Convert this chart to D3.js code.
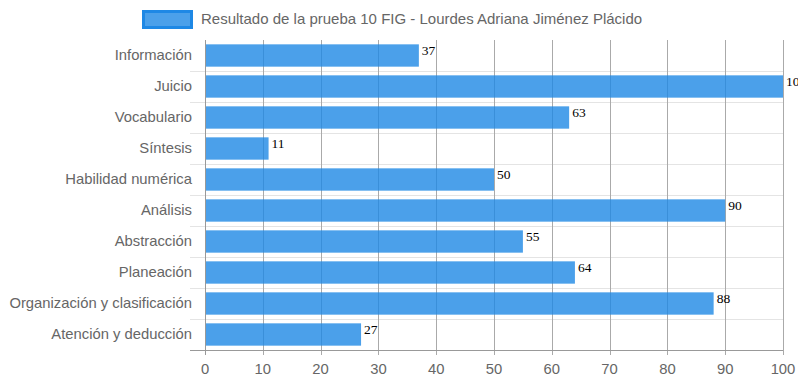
<!DOCTYPE html>
<html lang="es">
<head>
<meta charset="UTF-8" />
<title>Resultado de la prueba 10 FIG</title>
<script src="https://d3js.org/d3.v7.min.js"></script>
<style>
  body { margin: 0; background: #fff; }
  text { font-family: "Liberation Sans", Arial, sans-serif; }
</style>
</head>
<body>
<div id="chart"></div>
<script>
const categories = ["Información", "Juicio", "Vocabulario", "Síntesis", "Habilidad numérica",
  "Análisis", "Abstracción", "Planeación", "Organización y clasificación", "Atención y deducción"]
const values = [37, 100, 63, 11, 50, 90, 55, 64, 88, 27]
const xTicks = [0, 10, 20, 30, 40, 50, 60, 70, 80, 90, 100]
const seriesName = "Resultado de la prueba 10 FIG - Lourdes Adriana Jiménez Plácido"

const width = 798, height = 385
const margin = { top: 40, right: 15, bottom: 35, left: 205 }

const svg = d3.select("#chart").append("svg")
  .attr("width", width).attr("height", height)

const x = d3.scaleLinear().domain([0, 100]).range([margin.left, 783])
const y = d3.scaleBand().domain(categories).range([margin.top, height - margin.bottom])
const barH = y.bandwidth() * 0.9 * 0.8

// horizontal grid lines (band boundaries)
svg.append("g")
  .selectAll("line")
  .data(categories.slice(1))
  .join("line")
  .attr("x1", margin.left - 15).attr("x2", x(100))
  .attr("y1", d => y(d) + 0.5).attr("y2", d => y(d) + 0.5)
  .attr("stroke", "#e4e4e4")

// vertical grid lines
svg.append("g")
  .selectAll("line")
  .data(xTicks)
  .join("line")
  .attr("x1", d => Math.round(x(d)) + 0.5).attr("x2", d => Math.round(x(d)) + 0.5)
  .attr("y1", margin.top).attr("y2", height - margin.bottom + 5)
  .attr("stroke", d => d === 0 ? "#999" : "#aaa")

// bottom axis line
svg.append("line")
  .attr("x1", margin.left - 15).attr("x2", x(100))
  .attr("y1", height - margin.bottom + 0.5).attr("y2", height - margin.bottom + 0.5)
  .attr("stroke", "#999")

// bars
svg.append("g")
  .selectAll("rect")
  .data(values)
  .join("rect")
  .attr("x", x(0) + 1)
  .attr("y", (d, i) => y(categories[i]) + (y.bandwidth() - barH) / 2)
  .attr("width", d => x(d) - x(0) - 1)
  .attr("height", barH)
  .attr("fill", "#1e88e5")
  .attr("fill-opacity", 0.8)

// value labels
svg.append("g")
  .selectAll("text")
  .data(values)
  .join("text")
  .attr("x", d => x(d) + 3)
  .attr("y", (d, i) => y(categories[i]) + (y.bandwidth() - barH) / 2 + 11)
  .attr("font-size", 13.5)
  .style("font-family", "'Liberation Serif', 'Times New Roman', serif")
  .attr("fill", "#000")
  .text(d => d)

// category labels
svg.append("g")
  .selectAll("text")
  .data(categories)
  .join("text")
  .attr("x", margin.left - 13)
  .attr("y", d => y(d) + y.bandwidth() / 2 - 0.5)
  .attr("dy", "0.35em")
  .attr("text-anchor", "end")
  .attr("font-size", 14.8)
  .attr("fill", "#666")
  .text(d => d)

// x tick labels
svg.append("g")
  .selectAll("text")
  .data(xTicks)
  .join("text")
  .attr("x", d => x(d))
  .attr("y", height - margin.bottom + 19)
  .attr("dy", "0.35em")
  .attr("text-anchor", "middle")
  .attr("font-size", 14.8)
  .attr("fill", "#666")
  .text(d => d)

// legend
const legend = svg.append("g")
legend.append("rect")
  .attr("x", 143.5).attr("y", 11.5).attr("width", 48).attr("height", 16)
  .attr("fill", "#1e88e5").attr("fill-opacity", 0.8)
  .attr("stroke", "#1e88e5").attr("stroke-width", 3)
legend.append("text")
  .attr("x", 201).attr("y", 18.5)
  .attr("dy", "0.35em")
  .attr("font-size", 15)
  .attr("fill", "#666")
  .text(seriesName)
</script>
</body>
</html>
